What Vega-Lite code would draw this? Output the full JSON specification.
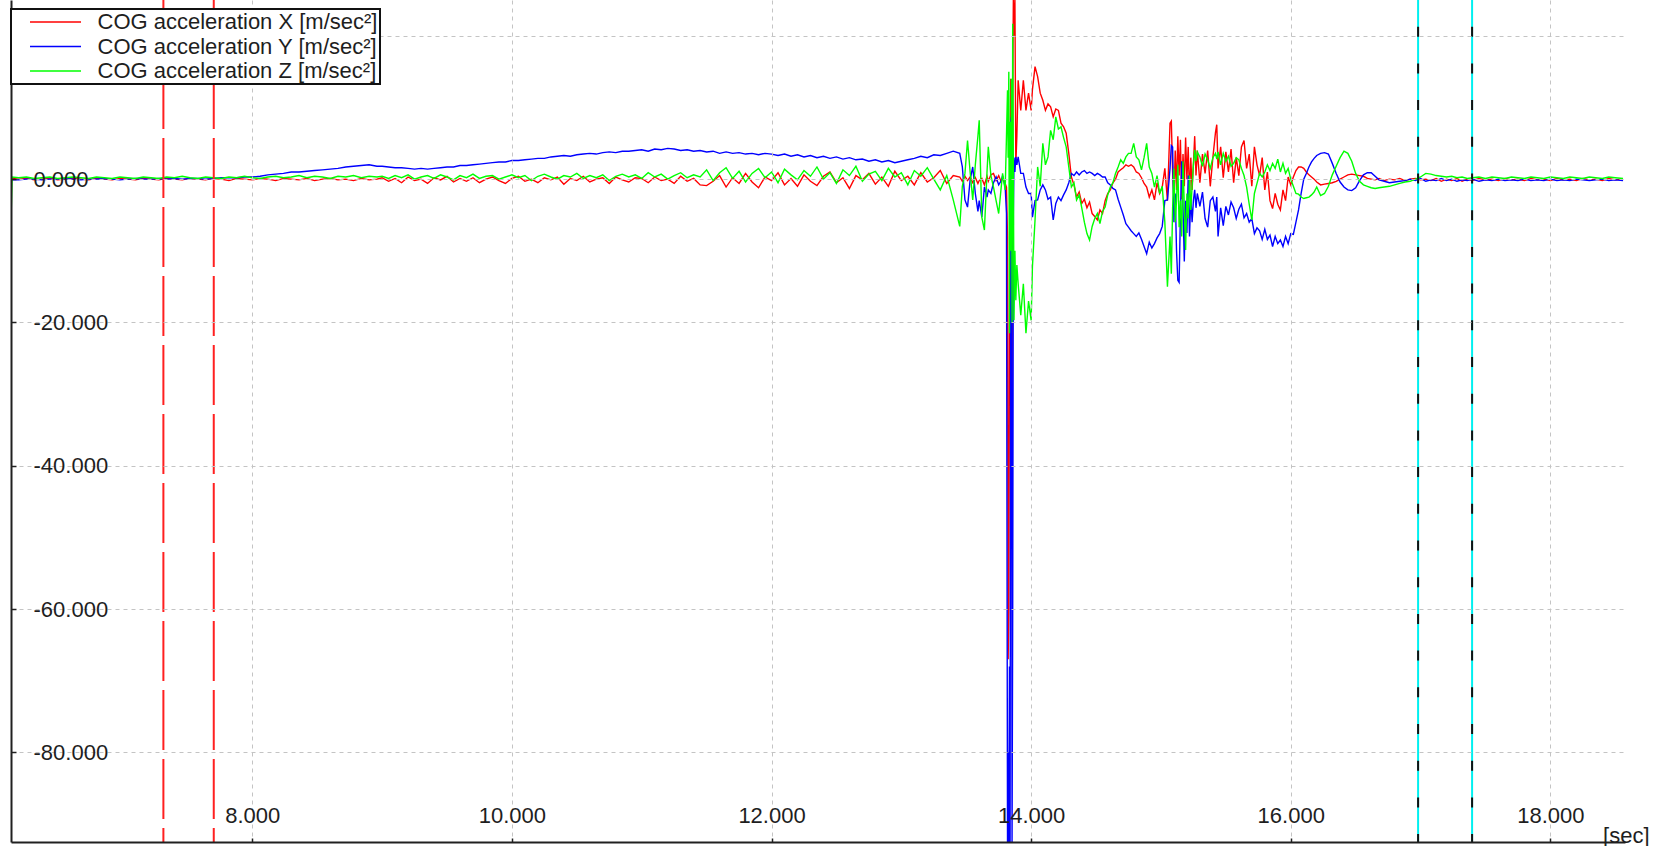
{
  "$schema": "https://vega.github.io/schema/vega-lite/v6.json",
  "width": 1614,
  "height": 842,
  "autosize": {"type": "none"},
  "padding": {"left": 11, "top": 0, "right": 28, "bottom": 4},
  "background": "#ffffff",
  "config": {"view": {"stroke": null}, "font": "Liberation Sans", "legend": {"strokeWidth": 2}},
  "datasets": {
    "acc": [
      {"t":6.141,"X":0.0,"Y":0.0,"Z":-5.6},{"t":6.15,"X":0.1,"Y":-0.1,"Z":0.3},{"t":6.20,"X":0.0,"Y":-0.1,"Z":0.2},{"t":6.26,"X":0.1,"Y":0.0,"Z":0.3},
      {"t":6.32,"X":-0.1,"Y":0.0,"Z":0.1},{"t":6.38,"X":0.0,"Y":-0.1,"Z":0.2},{"t":6.44,"X":0.1,"Y":0.0,"Z":0.3},{"t":6.50,"X":-0.1,"Y":0.0,"Z":0.1},
      {"t":6.56,"X":0.0,"Y":0.1,"Z":0.2},{"t":6.62,"X":0.1,"Y":0.0,"Z":0.3},{"t":6.68,"X":0.0,"Y":-0.1,"Z":0.2},{"t":6.74,"X":-0.1,"Y":0.0,"Z":0.1},
      {"t":6.80,"X":0.1,"Y":0.0,"Z":0.3},{"t":6.86,"X":0.0,"Y":0.1,"Z":0.2},{"t":6.92,"X":-0.1,"Y":0.0,"Z":0.1},{"t":6.98,"X":0.1,"Y":-0.1,"Z":0.3},
      {"t":7.04,"X":0.0,"Y":0.0,"Z":0.2},{"t":7.10,"X":-0.1,"Y":0.1,"Z":0.1},{"t":7.16,"X":0.1,"Y":0.0,"Z":0.3},{"t":7.22,"X":0.0,"Y":0.0,"Z":0.2},
      {"t":7.28,"X":-0.1,"Y":0.1,"Z":0.1},{"t":7.34,"X":0.1,"Y":0.0,"Z":0.3},{"t":7.40,"X":0.0,"Y":0.1,"Z":0.2},{"t":7.46,"X":-0.1,"Y":0.0,"Z":0.4},
      {"t":7.52,"X":0.1,"Y":0.1,"Z":0.2},{"t":7.58,"X":0.0,"Y":0.1,"Z":0.1},{"t":7.64,"X":-0.1,"Y":0.0,"Z":0.3},{"t":7.70,"X":0.1,"Y":0.1,"Z":0.2},
      {"t":7.76,"X":0.0,"Y":0.2,"Z":0.1},{"t":7.82,"X":-0.2,"Y":0.2,"Z":0.3},{"t":7.88,"X":0.1,"Y":0.2,"Z":0.2},{"t":7.94,"X":0.0,"Y":0.3,"Z":0.4},
      {"t":8.00,"X":-0.1,"Y":0.3,"Z":0.2},{"t":8.06,"X":0.1,"Y":0.4,"Z":0.1},{"t":8.12,"X":0.0,"Y":0.6,"Z":0.3},{"t":8.18,"X":-0.2,"Y":0.7,"Z":0.4},
      {"t":8.24,"X":0.1,"Y":0.8,"Z":0.2},{"t":8.30,"X":0.0,"Y":1.0,"Z":0.3},{"t":8.36,"X":-0.1,"Y":1.0,"Z":0.5},{"t":8.42,"X":0.1,"Y":1.1,"Z":0.2},
      {"t":8.48,"X":-0.2,"Y":1.2,"Z":0.4},{"t":8.54,"X":0.0,"Y":1.3,"Z":0.3},{"t":8.60,"X":0.1,"Y":1.4,"Z":0.1},{"t":8.66,"X":-0.1,"Y":1.5,"Z":0.4},
      {"t":8.72,"X":0.0,"Y":1.7,"Z":0.3},{"t":8.78,"X":-0.2,"Y":1.8,"Z":0.5},{"t":8.84,"X":0.1,"Y":1.9,"Z":0.2},{"t":8.90,"X":-0.1,"Y":2.0,"Z":0.4},
      {"t":8.96,"X":0.0,"Y":1.8,"Z":0.3},
      {"t":9.00,"X":0.2,"Y":1.8,"Z":0.4},{"t":9.05,"X":-0.3,"Y":1.7,"Z":0.1},{"t":9.10,"X":0.1,"Y":1.6,"Z":0.5},{"t":9.15,"X":-0.5,"Y":1.6,"Z":0.2},
      {"t":9.20,"X":0.3,"Y":1.5,"Z":0.6},{"t":9.25,"X":-0.2,"Y":1.4,"Z":0.0},{"t":9.30,"X":0.0,"Y":1.5,"Z":0.3},{"t":9.35,"X":-0.6,"Y":1.4,"Z":0.5},
      {"t":9.40,"X":0.2,"Y":1.5,"Z":0.1},{"t":9.45,"X":-0.1,"Y":1.6,"Z":0.6},{"t":9.50,"X":0.4,"Y":1.7,"Z":0.3},{"t":9.55,"X":-0.4,"Y":1.7,"Z":-0.1},
      {"t":9.60,"X":0.1,"Y":1.9,"Z":0.5},{"t":9.65,"X":-0.3,"Y":1.9,"Z":0.2},{"t":9.70,"X":0.2,"Y":2.0,"Z":0.7},{"t":9.75,"X":-0.5,"Y":2.1,"Z":0.1},
      {"t":9.80,"X":0.0,"Y":2.2,"Z":0.4},{"t":9.85,"X":0.3,"Y":2.3,"Z":0.5},{"t":9.90,"X":-0.2,"Y":2.4,"Z":0.0},{"t":9.95,"X":-0.6,"Y":2.4,"Z":0.3},
      {"t":10.00,"X":0.1,"Y":2.6,"Z":0.6},{"t":10.05,"X":0.4,"Y":2.6,"Z":0.2},{"t":10.10,"X":-0.3,"Y":2.7,"Z":0.5},{"t":10.15,"X":0.0,"Y":2.8,"Z":-0.2},
      {"t":10.20,"X":-0.5,"Y":2.9,"Z":0.4},{"t":10.25,"X":0.2,"Y":2.9,"Z":0.7},{"t":10.30,"X":-0.1,"Y":3.1,"Z":0.3},{"t":10.35,"X":0.3,"Y":3.2,"Z":0.0},
      {"t":10.40,"X":-0.7,"Y":3.3,"Z":0.5},{"t":10.45,"X":0.1,"Y":3.2,"Z":0.3},{"t":10.50,"X":-0.2,"Y":3.4,"Z":0.8},{"t":10.55,"X":0.4,"Y":3.5,"Z":0.1},
      {"t":10.60,"X":-0.4,"Y":3.6,"Z":0.5},{"t":10.65,"X":0.0,"Y":3.5,"Z":0.2},{"t":10.70,"X":0.2,"Y":3.7,"Z":0.6},{"t":10.75,"X":-0.6,"Y":3.8,"Z":-0.2},
      {"t":10.80,"X":0.3,"Y":3.7,"Z":0.4},{"t":10.85,"X":-0.1,"Y":3.9,"Z":0.7},{"t":10.90,"X":-0.4,"Y":3.9,"Z":0.3},{"t":10.95,"X":0.2,"Y":4.0,"Z":0.6},
      {"t":11.00,"X":0.1,"Y":4.1,"Z":0.1},{"t":11.05,"X":-0.5,"Y":3.9,"Z":0.9},{"t":11.10,"X":0.3,"Y":4.2,"Z":0.3},{"t":11.15,"X":-0.2,"Y":4.1,"Z":0.7},
      {"t":11.20,"X":0.0,"Y":4.3,"Z":0.0},{"t":11.25,"X":-0.6,"Y":4.2,"Z":0.5},{"t":11.30,"X":0.4,"Y":4.0,"Z":0.9},{"t":11.35,"X":-0.3,"Y":4.1,"Z":0.2},
      {"t":11.40,"X":0.1,"Y":3.9,"Z":0.6},{"t":11.45,"X":-0.8,"Y":4.0,"Z":0.3},{"t":11.50,"X":-0.9,"Y":3.8,"Z":1.3},{"t":11.55,"X":-0.3,"Y":3.9,"Z":-0.2},
      {"t":11.60,"X":0.5,"Y":3.6,"Z":0.9},{"t":11.65,"X":-1.1,"Y":3.8,"Z":1.6},{"t":11.70,"X":0.2,"Y":3.6,"Z":0.1},{"t":11.75,"X":-0.6,"Y":3.7,"Z":1.1},
      {"t":11.80,"X":0.8,"Y":3.5,"Z":-0.4},{"t":11.85,"X":-0.4,"Y":3.6,"Z":0.8},{"t":11.90,"X":-1.2,"Y":3.4,"Z":1.5},{"t":11.95,"X":0.3,"Y":3.6,"Z":0.2},
      {"t":12.00,"X":-0.2,"Y":3.5,"Z":1.0},{"t":12.05,"X":0.9,"Y":3.3,"Z":-0.5},{"t":12.10,"X":-0.8,"Y":3.5,"Z":1.4},{"t":12.15,"X":0.1,"Y":3.2,"Z":0.6},
      {"t":12.20,"X":-1.0,"Y":3.4,"Z":-0.1},{"t":12.25,"X":0.6,"Y":3.1,"Z":1.2},{"t":12.30,"X":-0.3,"Y":3.3,"Z":0.4},{"t":12.35,"X":-0.9,"Y":3.0,"Z":1.7},
      {"t":12.40,"X":0.4,"Y":3.2,"Z":0.0},{"t":12.45,"X":1.0,"Y":2.9,"Z":0.9},{"t":12.50,"X":-0.5,"Y":3.1,"Z":-0.6},{"t":12.55,"X":0.2,"Y":2.8,"Z":1.3},
      {"t":12.60,"X":-1.3,"Y":3.0,"Z":0.5},{"t":12.65,"X":0.5,"Y":2.7,"Z":1.8},{"t":12.70,"X":-0.1,"Y":2.8,"Z":-0.3},{"t":12.75,"X":0.8,"Y":2.5,"Z":0.7},
      {"t":12.80,"X":-0.7,"Y":2.7,"Z":1.1},{"t":12.85,"X":0.3,"Y":2.4,"Z":-0.2},{"t":12.90,"X":-1.0,"Y":2.6,"Z":1.5},{"t":12.95,"X":1.1,"Y":2.3,"Z":0.3},
      {"t":13.00,"X":-0.2,"Y":2.5,"Z":0.9},{"t":13.05,"X":0.4,"Y":2.7,"Z":-0.8},{"t":13.10,"X":-0.8,"Y":2.9,"Z":1.2},{"t":13.15,"X":0.9,"Y":3.2,"Z":0.4},
      {"t":13.20,"X":-0.4,"Y":3.0,"Z":1.6},{"t":13.25,"X":0.2,"Y":3.4,"Z":0.0},{"t":13.30,"X":1.2,"Y":3.3,"Z":-1.5},{"t":13.35,"X":-0.6,"Y":3.6,"Z":0.5},
      {"t":13.40,"X":0.5,"Y":3.9,"Z":-2.9},
      {"t":13.45,"X":0.3,"Y":3.6,"Z":-6.6},{"t":13.47,"X":-0.3,"Y":1.7,"Z":-1.0},{"t":13.49,"X":0.4,"Y":-2.9,"Z":0.8},{"t":13.51,"X":-0.2,"Y":-3.9,"Z":5.4},
      {"t":13.53,"X":0.3,"Y":-0.1,"Z":1.0},{"t":13.55,"X":-0.5,"Y":1.7,"Z":-2.9},{"t":13.57,"X":0.2,"Y":-2.0,"Z":2.0},{"t":13.59,"X":-0.6,"Y":-4.5,"Z":6.0},
      {"t":13.60,"X":-0.2,"Y":-3.0,"Z":8.2},{"t":13.62,"X":0.1,"Y":-5.3,"Z":-5.3},{"t":13.64,"X":-0.8,"Y":-1.1,"Z":-7.1},{"t":13.66,"X":0.4,"Y":-2.5,"Z":1.0},
      {"t":13.67,"X":-0.3,"Y":-1.5,"Z":4.5},{"t":13.69,"X":0.6,"Y":-2.0,"Z":0.5},{"t":13.71,"X":0.8,"Y":-0.5,"Z":-1.1},{"t":13.73,"X":-0.2,"Y":0.3,"Z":-3.0},
      {"t":13.75,"X":0.5,"Y":-0.8,"Z":-4.8},{"t":13.77,"X":-0.4,"Y":-0.2,"Z":-1.0},{"t":13.78,"X":0.2,"Y":0.5,"Z":0.8},{"t":13.80,"X":-0.6,"Y":-1.1,"Z":-1.5},
      {"t":13.81,"X":-1.1,"Y":-4.8,"Z":6.0},{"t":13.818,"X":-8,"Y":-92.5,"Z":12.4},{"t":13.823,"X":-67,"Y":-80,"Z":3},{"t":13.828,"X":-60,"Y":-92.5,"Z":15},
      {"t":13.833,"X":-20,"Y":-68,"Z":-21.5},{"t":13.838,"X":5,"Y":-92.5,"Z":8},{"t":13.843,"X":14,"Y":8,"Z":-10},{"t":13.848,"X":-41,"Y":8.7,"Z":14},
      {"t":13.853,"X":-34,"Y":-92.5,"Z":-20},{"t":13.858,"X":12,"Y":-60,"Z":21.7},{"t":13.863,"X":25,"Y":-5,"Z":1.7},{"t":13.868,"X":20,"Y":3,"Z":-19.7},
      {"t":13.875,"X":25,"Y":1,"Z":-10},{"t":13.882,"X":2,"Y":3.1,"Z":-16.9},{"t":13.89,"X":6,"Y":2.0,"Z":-12},{"t":13.90,"X":13.8,"Y":3.1,"Z":-14.6},
      {"t":13.92,"X":9.6,"Y":0.8,"Z":-19},{"t":13.94,"X":13.8,"Y":0.8,"Z":-14.6},{"t":13.96,"X":9.6,"Y":-1.1,"Z":-21.5},{"t":13.98,"X":12,"Y":-2.0,"Z":-17},
      {"t":14.00,"X":9.6,"Y":-2.0,"Z":-19.7},{"t":14.01,"X":12.5,"Y":-5.3,"Z":-12.2},{"t":14.03,"X":15.7,"Y":-3.0,"Z":-5.7},{"t":14.05,"X":14.3,"Y":-2.9,"Z":1.7},
      {"t":14.07,"X":12,"Y":-1.5,"Z":-1.0},{"t":14.09,"X":11,"Y":-0.8,"Z":5.0},{"t":14.11,"X":9.6,"Y":-1.5,"Z":2.0},{"t":14.13,"X":10.5,"Y":-2.8,"Z":3.1},
      {"t":14.15,"X":10.1,"Y":-2.5,"Z":6.8},{"t":14.17,"X":8.7,"Y":-5.7,"Z":5.5},{"t":14.19,"X":9.8,"Y":-3.4,"Z":8.7},{"t":14.21,"X":9.6,"Y":-2.5,"Z":7.0},
      {"t":14.23,"X":7.8,"Y":-3.0,"Z":7.3},{"t":14.25,"X":7.3,"Y":-2.2,"Z":5.8},{"t":14.27,"X":6.4,"Y":-1.5,"Z":4.5},{"t":14.29,"X":3.6,"Y":-0.5,"Z":1.7},
      {"t":14.31,"X":0.3,"Y":0.8,"Z":-1.1},{"t":14.33,"X":-0.8,"Y":0.5,"Z":-0.5},{"t":14.35,"X":-2.5,"Y":1.0,"Z":-2.9},{"t":14.37,"X":-1.8,"Y":0.6,"Z":-2.2},
      {"t":14.39,"X":-3.4,"Y":1.0,"Z":-4.0},{"t":14.41,"X":-2.8,"Y":1.2,"Z":-6.0},{"t":14.43,"X":-4.0,"Y":0.8,"Z":-7.6},{"t":14.45,"X":-3.2,"Y":1.0,"Z":-8.5},
      {"t":14.47,"X":-4.8,"Y":0.8,"Z":-6.6},{"t":14.49,"X":-5.2,"Y":0.5,"Z":-5.5},{"t":14.51,"X":-5.7,"Y":0.8,"Z":-4.8},{"t":14.53,"X":-4.3,"Y":0.6,"Z":-6.2},
      {"t":14.55,"X":-4.8,"Y":0.3,"Z":-4.5},{"t":14.57,"X":-3.0,"Y":0.3,"Z":-3.9},{"t":14.59,"X":-2.0,"Y":-0.5,"Z":-2.2},{"t":14.61,"X":-1.5,"Y":-0.8,"Z":-1.1},
      {"t":14.63,"X":-0.5,"Y":-1.3,"Z":-0.5},{"t":14.65,"X":0.0,"Y":-1.5,"Z":0.8},{"t":14.67,"X":1.0,"Y":-2.8,"Z":1.7},{"t":14.69,"X":1.3,"Y":-3.9,"Z":2.7},
      {"t":14.71,"X":1.6,"Y":-5.0,"Z":2.2},{"t":14.73,"X":2.0,"Y":-6.2,"Z":3.1},{"t":14.75,"X":1.8,"Y":-6.7,"Z":3.6},{"t":14.77,"X":2.0,"Y":-7.2,"Z":3.6},
      {"t":14.79,"X":1.7,"Y":-7.6,"Z":5.0},{"t":14.81,"X":1.0,"Y":-8.0,"Z":3.1},{"t":14.83,"X":0.8,"Y":-7.5,"Z":2.7},{"t":14.85,"X":0.2,"Y":-8.4,"Z":1.3},
      {"t":14.87,"X":-0.6,"Y":-9.4,"Z":3.0},{"t":14.89,"X":-1.1,"Y":-10.4,"Z":5.0},{"t":14.91,"X":-2.5,"Y":-8.8,"Z":1.7},{"t":14.93,"X":-1.5,"Y":-9.6,"Z":0.8},
      {"t":14.95,"X":-2.9,"Y":-9.0,"Z":-1.1},{"t":14.97,"X":-0.5,"Y":-8.2,"Z":0.5},{"t":14.99,"X":-2.0,"Y":-7.6,"Z":-2.0},{"t":15.01,"X":-1.1,"Y":-6.6,"Z":-1.0},
      {"t":15.03,"X":1.5,"Y":-3.0,"Z":-6.0},{"t":15.05,"X":-3.0,"Y":-2.9,"Z":-15.0},{"t":15.07,"X":7.8,"Y":1.5,"Z":-8.0},{"t":15.08,"X":8.1,"Y":4.7,"Z":-13.2},
      {"t":15.09,"X":1.0,"Y":4.5,"Z":-4.0},{"t":15.10,"X":-3.0,"Y":-6.0,"Z":1.5},{"t":15.11,"X":4.0,"Y":-2.0,"Z":-6.0},{"t":15.12,"X":-1.5,"Y":-10.0,"Z":-3.0},
      {"t":15.13,"X":6.0,"Y":-14.1,"Z":2.0},{"t":15.14,"X":0.5,"Y":-14.4,"Z":-6.7},{"t":15.15,"X":5.5,"Y":-5.0,"Z":-3.0},{"t":15.16,"X":-2.8,"Y":2.5,"Z":-8.0},
      {"t":15.17,"X":3.5,"Y":-4.0,"Z":2.5},{"t":15.18,"X":-1.0,"Y":-11.5,"Z":-4.0},{"t":15.19,"X":5.8,"Y":-3.0,"Z":-9.9},{"t":15.20,"X":0.0,"Y":-7.5,"Z":-2.0},
      {"t":15.21,"X":4.5,"Y":0.5,"Z":-5.5},{"t":15.22,"X":-2.5,"Y":-8.0,"Z":0.5},{"t":15.23,"X":3.0,"Y":-2.5,"Z":-4.3},{"t":15.24,"X":-1.5,"Y":-6.0,"Z":-1.0},
      {"t":15.25,"X":2.0,"Y":-3.0,"Z":2.0},{"t":15.26,"X":6.0,"Y":-1.5,"Z":4.1},{"t":15.27,"X":0.5,"Y":-4.0,"Z":2.5},{"t":15.28,"X":4.0,"Y":-2.0,"Z":3.8},
      {"t":15.30,"X":-0.5,"Y":-3.8,"Z":3.1},{"t":15.32,"X":3.5,"Y":-1.8,"Z":1.8},{"t":15.34,"X":0.8,"Y":-5.5,"Z":3.5},{"t":15.36,"X":4.0,"Y":-6.7,"Z":2.7},
      {"t":15.38,"X":-1.0,"Y":-3.0,"Z":1.5},{"t":15.40,"X":3.0,"Y":-2.5,"Z":3.0},{"t":15.42,"X":6.5,"Y":-4.5,"Z":3.6},{"t":15.43,"X":7.6,"Y":-2.5,"Z":2.8},
      {"t":15.44,"X":1.5,"Y":-8.0,"Z":3.8},{"t":15.46,"X":4.5,"Y":-4.0,"Z":2.0},{"t":15.48,"X":0.2,"Y":-6.5,"Z":3.6},{"t":15.50,"X":3.8,"Y":-3.8,"Z":2.5},
      {"t":15.52,"X":1.0,"Y":-5.0,"Z":3.2},{"t":15.54,"X":4.2,"Y":-3.2,"Z":1.8},{"t":15.56,"X":-0.5,"Y":-4.0,"Z":2.2},{"t":15.58,"X":3.0,"Y":-5.5,"Z":3.0},
      {"t":15.60,"X":0.5,"Y":-4.2,"Z":2.7},{"t":15.62,"X":4.5,"Y":-3.5,"Z":1.5},{"t":15.64,"X":5.4,"Y":-5.4,"Z":0.5},{"t":15.66,"X":1.5,"Y":-4.8,"Z":-1.1},
      {"t":15.68,"X":3.5,"Y":-6.0,"Z":-3.5},{"t":15.70,"X":-1.0,"Y":-5.5,"Z":-5.7},{"t":15.72,"X":4.5,"Y":-7.6,"Z":-2.0},{"t":15.74,"X":2.0,"Y":-6.8,"Z":-0.6},
      {"t":15.76,"X":0.5,"Y":-7.2,"Z":0.8},{"t":15.78,"X":3.0,"Y":-8.4,"Z":0.3},{"t":15.80,"X":-1.5,"Y":-7.0,"Z":1.0},{"t":15.82,"X":1.0,"Y":-8.4,"Z":2.0},
      {"t":15.84,"X":-3.0,"Y":-7.8,"Z":1.2},{"t":15.86,"X":-4.1,"Y":-9.4,"Z":2.2},{"t":15.88,"X":-2.0,"Y":-8.0,"Z":1.5},{"t":15.90,"X":-3.5,"Y":-9.0,"Z":2.8},
      {"t":15.92,"X":-4.3,"Y":-8.5,"Z":1.0},{"t":15.94,"X":-1.5,"Y":-9.4,"Z":2.2},{"t":15.96,"X":-3.0,"Y":-8.0,"Z":0.8},{"t":15.98,"X":0.3,"Y":-9.0,"Z":1.5},
      {"t":16.00,"X":-0.8,"Y":-7.6,"Z":0.0},{"t":16.02,"X":0.3,"Y":-7.7,"Z":-1.0},{"t":16.04,"X":1.2,"Y":-6.0,"Z":-2.0},{"t":16.06,"X":1.7,"Y":-4.3,"Z":-2.1},
      {"t":16.08,"X":1.7,"Y":-2.0,"Z":-2.5},{"t":16.10,"X":1.5,"Y":0.0,"Z":-2.7},{"t":16.12,"X":1.0,"Y":0.8,"Z":-2.6},{"t":16.14,"X":0.6,"Y":1.7,"Z":-2.5},
      {"t":16.16,"X":0.3,"Y":2.4,"Z":-2.2},{"t":16.18,"X":0.0,"Y":2.9,"Z":-1.8},{"t":16.20,"X":-0.4,"Y":3.3,"Z":-1.1},
      {"t":16.23,"X":-0.8,"Y":3.6,"Z":-2.3},{"t":16.26,"X":-0.7,"Y":3.7,"Z":-2.0},{"t":16.29,"X":-0.6,"Y":3.5,"Z":-1.0},{"t":16.32,"X":-0.5,"Y":2.2,"Z":0.6},
      {"t":16.35,"X":-0.3,"Y":0.8,"Z":1.8},{"t":16.38,"X":0.0,"Y":-0.4,"Z":3.0},{"t":16.41,"X":0.3,"Y":-1.1,"Z":3.9},{"t":16.44,"X":0.6,"Y":-1.5,"Z":3.6},
      {"t":16.47,"X":0.7,"Y":-1.6,"Z":2.5},{"t":16.50,"X":0.6,"Y":-1.2,"Z":0.8},{"t":16.53,"X":0.5,"Y":-0.2,"Z":-0.3},{"t":16.56,"X":0.4,"Y":0.6,"Z":-0.8},
      {"t":16.59,"X":0.1,"Y":0.9,"Z":-1.0},{"t":16.62,"X":0.0,"Y":0.9,"Z":-1.2},{"t":16.65,"X":-0.1,"Y":0.4,"Z":-1.3},{"t":16.68,"X":0.1,"Y":-0.1,"Z":-1.2},
      {"t":16.72,"X":-0.2,"Y":-0.3,"Z":-1.1},{"t":16.76,"X":0.0,"Y":-0.5,"Z":-1.0},{"t":16.80,"X":-0.1,"Y":-0.4,"Z":-0.8},{"t":16.84,"X":0.1,"Y":-0.3,"Z":-0.6},
      {"t":16.88,"X":-0.2,"Y":-0.2,"Z":-0.4},{"t":16.92,"X":0.0,"Y":0.0,"Z":-0.3},{"t":16.96,"X":0.1,"Y":-0.2,"Z":0.0},{"t":17.00,"X":-0.1,"Y":0.1,"Z":0.3},
      {"t":17.04,"X":0.0,"Y":-0.3,"Z":0.8},{"t":17.08,"X":-0.2,"Y":-0.1,"Z":0.7},{"t":17.12,"X":0.1,"Y":-0.2,"Z":0.5},{"t":17.16,"X":-0.3,"Y":0.1,"Z":0.4},
      {"t":17.20,"X":0.0,"Y":-0.2,"Z":0.3},{"t":17.24,"X":-0.2,"Y":0.0,"Z":0.4},{"t":17.28,"X":0.1,"Y":-0.3,"Z":0.2},{"t":17.32,"X":-0.3,"Y":-0.1,"Z":0.3},
      {"t":17.36,"X":0.0,"Y":-0.2,"Z":0.1},{"t":17.40,"X":-0.2,"Y":0.0,"Z":0.2},{"t":17.45,"X":0.1,"Y":-0.3,"Z":0.3},{"t":17.50,"X":-0.1,"Y":-0.1,"Z":0.1},
      {"t":17.55,"X":0.0,"Y":-0.2,"Z":0.3},{"t":17.60,"X":-0.2,"Y":0.0,"Z":0.2},{"t":17.65,"X":0.1,"Y":-0.2,"Z":0.1},{"t":17.70,"X":-0.1,"Y":-0.1,"Z":0.3},
      {"t":17.75,"X":0.0,"Y":-0.2,"Z":0.2},{"t":17.80,"X":-0.2,"Y":0.0,"Z":0.1},{"t":17.85,"X":0.1,"Y":-0.2,"Z":0.3},{"t":17.90,"X":-0.1,"Y":-0.1,"Z":0.2},
      {"t":17.95,"X":0.0,"Y":-0.2,"Z":0.1},{"t":18.00,"X":-0.2,"Y":0.0,"Z":0.3},{"t":18.05,"X":0.1,"Y":-0.2,"Z":0.2},{"t":18.10,"X":-0.1,"Y":-0.1,"Z":0.1},
      {"t":18.15,"X":0.0,"Y":-0.2,"Z":0.3},{"t":18.20,"X":-0.2,"Y":0.0,"Z":0.2},{"t":18.25,"X":0.1,"Y":-0.1,"Z":0.1},{"t":18.30,"X":-0.1,"Y":-0.2,"Z":0.3},
      {"t":18.35,"X":0.0,"Y":-0.1,"Z":0.2},{"t":18.40,"X":-0.2,"Y":0.0,"Z":0.1},{"t":18.45,"X":0.1,"Y":-0.2,"Z":0.3},{"t":18.50,"X":-0.1,"Y":-0.1,"Z":0.2},
      {"t":18.56,"X":0.0,"Y":-0.2,"Z":0.1}
    ],
    "markers": [
      {"t": 7.315, "kind": "start"},
      {"t": 7.703, "kind": "start"},
      {"t": 16.981, "kind": "end"},
      {"t": 17.397, "kind": "end"}
    ]
  },
  "layer": [
    {
      "data": {"name": "acc"},
      "transform": [{"fold": ["X", "Y", "Z"], "as": ["component", "value"]}],
      "mark": {"type": "line", "strokeWidth": 1.4, "clip": true},
      "encoding": {
        "x": {
          "field": "t", "type": "quantitative",
          "scale": {"domain": [6.141, 18.575], "nice": false, "zero": false},
          "axis": {
            "values": [8, 10, 12, 14, 16, 18],
            "format": ".3f",
            "labelFontSize": 22, "labelColor": "#1e1e1e",
            "labelBaseline": "alphabetic", "labelPadding": -16,
            "labelFlush": false, "labelOverlap": false,
            "tickSize": -4, "tickColor": "#202020", "tickWidth": 1.5,
            "domainColor": "#202020", "domainWidth": 2,
            "grid": true, "gridColor": "#c4c4c4", "gridDash": [4, 4], "gridWidth": 1,
            "title": "[sec]", "titleFontSize": 22, "titleFontWeight": "normal", "titleColor": "#1e1e1e",
            "titleAlign": "right", "titleBaseline": "alphabetic", "titleX": 1638, "titleY": 0,
            "zindex": -2
          }
        },
        "y": {
          "field": "value", "type": "quantitative",
          "scale": {"domain": [-92.5, 25], "nice": false, "zero": false},
          "axis": {
            "values": [20, 0, -20, -40, -60, -80],
            "labelExpr": "datum.value == 20 ? '' : (datum.value < 0 ? '-' + format(-datum.value, '.3f') : format(datum.value, '.3f'))",
            "labelFontSize": 22, "labelColor": "#1e1e1e",
            "labelAlign": "left", "labelBaseline": "middle", "labelPadding": -17,
            "labelOverlap": false, "labelFlush": false,
            "tickSize": -5, "tickColor": "#202020", "tickWidth": 1.5,
            "domainColor": "#202020", "domainWidth": 2,
            "grid": true, "gridColor": "#c4c4c4", "gridDash": [4, 4], "gridWidth": 1,
            "title": null,
            "zindex": -2
          }
        },
        "color": {
          "field": "component", "type": "nominal",
          "scale": {"domain": ["X", "Y", "Z"], "range": ["#ff0000", "#0000ff", "#00ff00"]},
          "legend": {
            "orient": "none", "legendX": 0, "legendY": 9,
            "title": null, "direction": "vertical",
            "padding": 2, "rowPadding": 2.5,
            "strokeColor": "#111111", "fillColor": "#ffffff",
            "symbolType": "M-2.55,0H2.55", "symbolSize": 400, "symbolStrokeWidth": 1.5,
            "symbolOffset": 31.5, "labelOffset": 31,
            "labelFontSize": 22, "labelColor": "#1e1e1e", "labelLimit": 0,
            "labelExpr": "'COG acceleration ' + datum.value + ' [m/sec²]'",
            "zindex": -1
          }
        }
      }
    },
    {
      "data": {"name": "markers"},
      "transform": [{"filter": "datum.kind == 'start'"}],
      "mark": {"type": "rule", "color": "#ff2020", "strokeWidth": 2, "strokeDash": [60, 9]},
      "encoding": {"x": {"field": "t", "type": "quantitative"}}
    },
    {
      "data": {"name": "markers"},
      "transform": [{"filter": "datum.kind == 'end'"}],
      "mark": {"type": "rule", "color": "#00f0f0", "strokeWidth": 2},
      "encoding": {"x": {"field": "t", "type": "quantitative"}}
    },
    {
      "data": {"name": "markers"},
      "transform": [{"filter": "datum.kind == 'end'"}],
      "mark": {"type": "rule", "color": "#111111", "strokeWidth": 2, "strokeDash": [10, 26.7], "strokeDashOffset": 10},
      "encoding": {"x": {"field": "t", "type": "quantitative"}}
    }
  ]
}
